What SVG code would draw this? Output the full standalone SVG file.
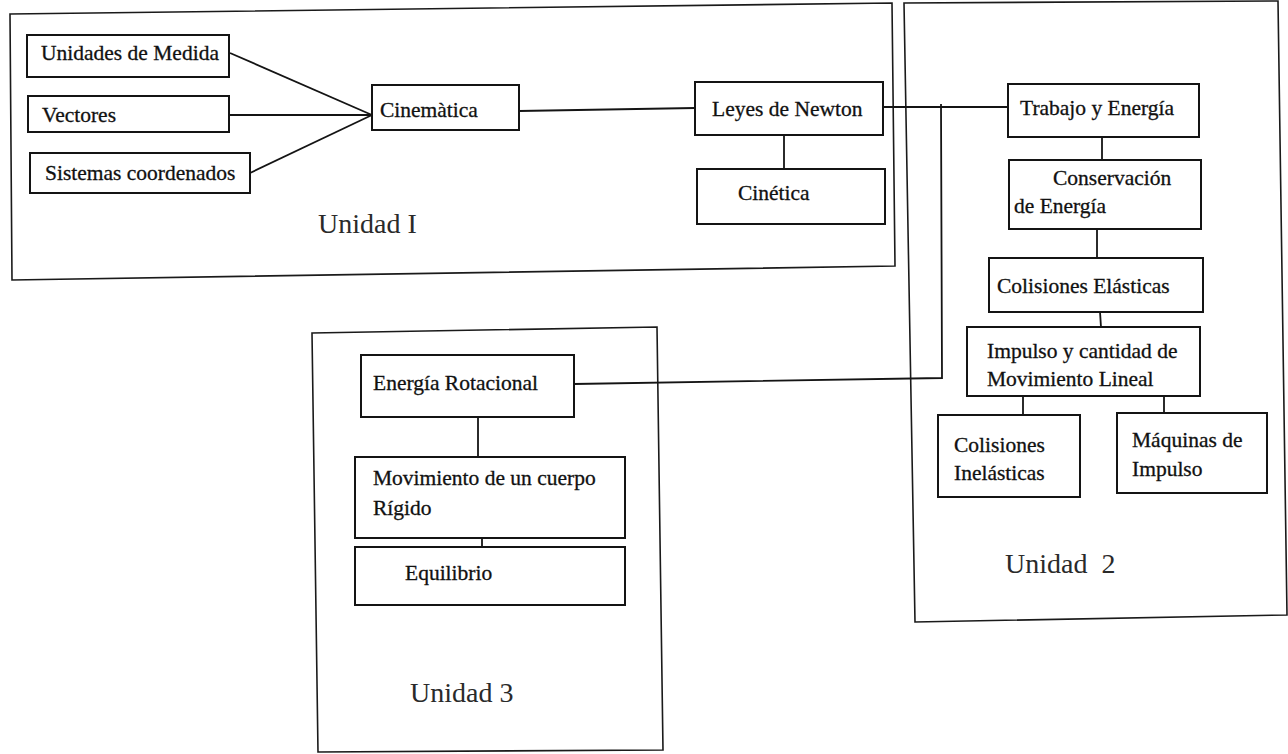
<svg xmlns="http://www.w3.org/2000/svg" width="1288" height="754" viewBox="0 0 1288 754">
  <style>
    .frame { fill: none; stroke: #1a1a1a; stroke-width: 1.6; }
    .box { fill: #ffffff; stroke: #141414; stroke-width: 2; }
    .link { fill: none; stroke: #141414; stroke-width: 1.8; }
    .t { font-family: 'Liberation Serif', serif; font-size: 21.5px; fill: #111; stroke: #111; stroke-width: 0.3; }
    .unit { font-family: 'Liberation Serif', serif; font-size: 28px; fill: #2a2a2a; }
  </style>
  <rect width="1288" height="754" fill="#ffffff"/>

  <!-- unit frames -->
  <g id="unidad-1">
    <polygon class="frame" points="10,14 892,3 895,266 12,280"/>
    <text class="unit" font-family="Liberation Serif" x="318" y="233">Unidad I</text>
  </g>
  <g id="unidad-2">
    <polygon class="frame" points="904,3 1278,1 1287,615 915,622"/>
    <text class="unit" font-family="Liberation Serif" x="1005" y="573">Unidad&#160; 2</text>
  </g>
  <g id="unidad-3">
    <polygon class="frame" points="312,333 657,327 663,750 318,752"/>
    <text class="unit" font-family="Liberation Serif" x="410" y="702">Unidad 3</text>
  </g>

  <!-- connectors -->
  <g id="connectors">
    <polyline class="link" points="230,53 372,115"/>
    <polyline class="link" points="230,115 372,115"/>
    <polyline class="link" points="250,173 372,115"/>
    <polyline class="link" points="519,111 695,108"/>
    <polyline class="link" points="784,135 784,169"/>
    <polyline class="link" points="883,107 1008,107"/>
    <polyline class="link" points="574,384 942,378 941,104"/>
    <polyline class="link" points="1102,137 1102,160"/>
    <polyline class="link" points="1097,229 1097,258"/>
    <polyline class="link" points="1100,312 1101,327"/>
    <polyline class="link" points="1023,396 1023,415"/>
    <polyline class="link" points="1164,392 1164,413"/>
    <polyline class="link" points="478,417 478,457"/>
    <polyline class="link" points="482,538 482,547"/>
  </g>

  <!-- Unidad I nodes -->
  <g id="unidades-de-medida">
    <rect class="box" x="27" y="35" width="202" height="42"/>
    <text class="t" font-family="Liberation Serif" x="41" y="60">Unidades de Medida</text>
  </g>
  <g id="vectores">
    <rect class="box" x="28" y="96" width="201" height="36"/>
    <text class="t" font-family="Liberation Serif" x="42" y="122">Vectores</text>
  </g>
  <g id="sistemas-coordenados">
    <rect class="box" x="30" y="153" width="220" height="40"/>
    <text class="t" font-family="Liberation Serif" x="45" y="180">Sistemas coordenados</text>
  </g>
  <g id="cinematica">
    <rect class="box" x="372" y="85" width="147" height="45"/>
    <text class="t" font-family="Liberation Serif" x="380" y="117">Cinemàtica</text>
  </g>
  <g id="leyes-de-newton">
    <rect class="box" x="695" y="82" width="188" height="53"/>
    <text class="t" font-family="Liberation Serif" x="712" y="116">Leyes de Newton</text>
  </g>
  <g id="cinetica">
    <rect class="box" x="697" y="169" width="188" height="55"/>
    <text class="t" font-family="Liberation Serif" x="738" y="200">Cinética</text>
  </g>

  <!-- Unidad 2 nodes -->
  <g id="trabajo-y-energia">
    <rect class="box" x="1008" y="84" width="191" height="53"/>
    <text class="t" font-family="Liberation Serif" x="1020" y="115">Trabajo y Energía</text>
  </g>
  <g id="conservacion-de-energia">
    <rect class="box" x="1009" y="160" width="192" height="69"/>
    <text class="t" font-family="Liberation Serif" x="1053" y="185">Conservación</text>
    <text class="t" font-family="Liberation Serif" x="1014" y="213">de Energía</text>
  </g>
  <g id="colisiones-elasticas">
    <rect class="box" x="989" y="258" width="214" height="54"/>
    <text class="t" font-family="Liberation Serif" x="997" y="293">Colisiones Elásticas</text>
  </g>
  <g id="impulso-y-cantidad">
    <rect class="box" x="967" y="327" width="233" height="69"/>
    <text class="t" font-family="Liberation Serif" x="987" y="358">Impulso y cantidad de</text>
    <text class="t" font-family="Liberation Serif" x="987" y="386">Movimiento Lineal</text>
  </g>
  <g id="colisiones-inelasticas">
    <rect class="box" x="938" y="415" width="142" height="82"/>
    <text class="t" font-family="Liberation Serif" x="954" y="452">Colisiones</text>
    <text class="t" font-family="Liberation Serif" x="954" y="480">Inelásticas</text>
  </g>
  <g id="maquinas-de-impulso">
    <rect class="box" x="1117" y="413" width="150" height="80"/>
    <text class="t" font-family="Liberation Serif" x="1132" y="447">Máquinas de</text>
    <text class="t" font-family="Liberation Serif" x="1132" y="476">Impulso</text>
  </g>

  <!-- Unidad 3 nodes -->
  <g id="energia-rotacional">
    <rect class="box" x="361" y="355" width="213" height="62"/>
    <text class="t" font-family="Liberation Serif" x="373" y="390">Energía Rotacional</text>
  </g>
  <g id="movimiento-cuerpo-rigido">
    <rect class="box" x="355" y="457" width="270" height="81"/>
    <text class="t" font-family="Liberation Serif" x="373" y="485">Movimiento de un cuerpo</text>
    <text class="t" font-family="Liberation Serif" x="373" y="515">Rígido</text>
  </g>
  <g id="equilibrio">
    <rect class="box" x="355" y="547" width="270" height="58"/>
    <text class="t" font-family="Liberation Serif" x="405" y="580">Equilibrio</text>
  </g>
</svg>
